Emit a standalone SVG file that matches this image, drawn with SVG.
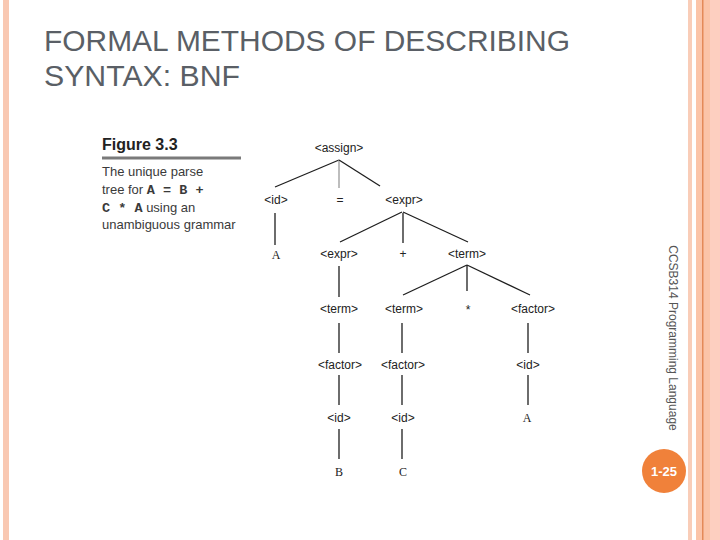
<svg xmlns="http://www.w3.org/2000/svg" width="720" height="540" viewBox="0 0 720 540">
<defs>
<style>
.title{font-family:"Liberation Sans",Arial,sans-serif;font-size:29.5px;fill:#5a5f66}
.cap{font-family:"Liberation Sans",Arial,sans-serif;font-size:13px;fill:#3a3a3a}
.mono{font-family:"Liberation Mono","Courier New",monospace;font-weight:bold;font-size:13.5px;fill:#3a3a3a;white-space:pre}
.nt{font-family:"Liberation Sans",Arial,sans-serif;font-size:12px;fill:#222;text-anchor:middle}
.t{font-family:"Liberation Serif","Times New Roman",serif;font-size:12px;fill:#222;text-anchor:middle}
.edge{stroke:#1e1e1e;stroke-width:1.3;fill:none}
</style>
</defs>
<rect width="720" height="540" fill="#ffffff"/>
<!-- borders -->
<rect x="3" y="0" width="6" height="540" fill="#f9c8b2"/>
<rect x="688" y="0" width="4" height="540" fill="#f9cdb8"/>
<rect x="696" y="0" width="14" height="540" fill="#fbc4a8"/>
<rect x="702" y="0" width="1.5" height="540" fill="#e48a58"/>
<rect x="710" y="0" width="10" height="540" fill="#fdcfc0"/>
<!-- title -->
<text class="title" x="44" y="51" textLength="526" lengthAdjust="spacingAndGlyphs">FORMAL METHODS OF DESCRIBING</text>
<text class="title" x="44" y="86" textLength="196" lengthAdjust="spacingAndGlyphs">SYNTAX: BNF</text>
<!-- figure caption -->
<g id="caption">
<text x="102" y="150" font-family="Liberation Sans,Arial,sans-serif" font-weight="bold" font-size="16" fill="#222">Figure 3.3</text>
<rect x="102" y="156.5" width="139" height="3" fill="#7a7a7a"/>
<text class="cap" x="102" y="176">The unique parse</text>
<text class="cap" x="102" y="194" xml:space="preserve">tree for <tspan class="mono">A = B +</tspan></text>
<text class="cap" x="102" y="212" xml:space="preserve"><tspan class="mono">C * A</tspan> using an</text>
<text class="cap" x="102" y="229">unambiguous grammar</text>
</g>
<!-- connectors -->
<g id="connectors" class="edge">
<line x1="339" y1="160" x2="275" y2="187"/>
<line x1="339" y1="160" x2="339" y2="188" stroke="#9a9a9a"/>
<line x1="339" y1="160" x2="380" y2="186"/>
<line x1="275" y1="213" x2="275" y2="245"/>
<line x1="402" y1="212" x2="340" y2="242"/>
<line x1="403" y1="213" x2="403" y2="243"/>
<line x1="403" y1="212" x2="468" y2="242"/>
<line x1="339" y1="266" x2="339" y2="297"/>
<line x1="467" y1="265" x2="403" y2="295"/>
<line x1="467" y1="265" x2="467" y2="291"/>
<line x1="467" y1="265" x2="530" y2="295"/>
<line x1="339" y1="323" x2="339" y2="353"/>
<line x1="402" y1="323" x2="402" y2="353"/>
<line x1="528" y1="323" x2="528" y2="353"/>
<line x1="339" y1="375" x2="339" y2="405"/>
<line x1="402" y1="375" x2="402" y2="405"/>
<line x1="528" y1="375" x2="528" y2="405"/>
<line x1="339" y1="429" x2="339" y2="459"/>
<line x1="402" y1="429" x2="402" y2="459"/>
</g>
<!-- nodes -->
<g id="n-assign"><text class="nt" x="339" y="152">&lt;assign&gt;</text></g>
<g id="n-id1"><text class="nt" x="276" y="204">&lt;id&gt;</text></g>
<g id="n-eq"><text class="nt" x="340" y="204">=</text></g>
<g id="n-expr1"><text class="nt" x="404" y="204">&lt;expr&gt;</text></g>
<g id="n-A1"><text class="t" x="276" y="259">A</text></g>
<g id="n-expr2"><text class="nt" x="339" y="258">&lt;expr&gt;</text></g>
<g id="n-plus"><text class="nt" x="403" y="258">+</text></g>
<g id="n-term1"><text class="nt" x="467" y="258">&lt;term&gt;</text></g>
<g id="n-term2"><text class="nt" x="339" y="313">&lt;term&gt;</text></g>
<g id="n-term3"><text class="nt" x="404" y="313">&lt;term&gt;</text></g>
<g id="n-star"><text class="nt" x="468" y="314">*</text></g>
<g id="n-factor1"><text class="nt" x="533" y="313">&lt;factor&gt;</text></g>
<g id="n-factor2"><text class="nt" x="340" y="369">&lt;factor&gt;</text></g>
<g id="n-factor3"><text class="nt" x="403" y="369">&lt;factor&gt;</text></g>
<g id="n-id2"><text class="nt" x="528" y="369">&lt;id&gt;</text></g>
<g id="n-id3"><text class="nt" x="339" y="422">&lt;id&gt;</text></g>
<g id="n-id4"><text class="nt" x="403" y="422">&lt;id&gt;</text></g>
<g id="n-A2"><text class="t" x="527" y="422">A</text></g>
<g id="n-B"><text class="t" x="339" y="476">B</text></g>
<g id="n-C"><text class="t" x="403" y="476">C</text></g>
<!-- footer -->
<text transform="translate(668,338) rotate(90)" text-anchor="middle" font-family="Liberation Sans,Arial,sans-serif" font-size="12" fill="#555" dy="-1">CCSB314 Programming Language</text>
<g id="page">
<circle cx="664" cy="471" r="22" fill="#f0813a"/>
<text x="664" y="476" text-anchor="middle" font-family="Liberation Sans,Arial,sans-serif" font-weight="bold" font-size="13" fill="#ffffff">1-25</text>
</g>
</svg>
